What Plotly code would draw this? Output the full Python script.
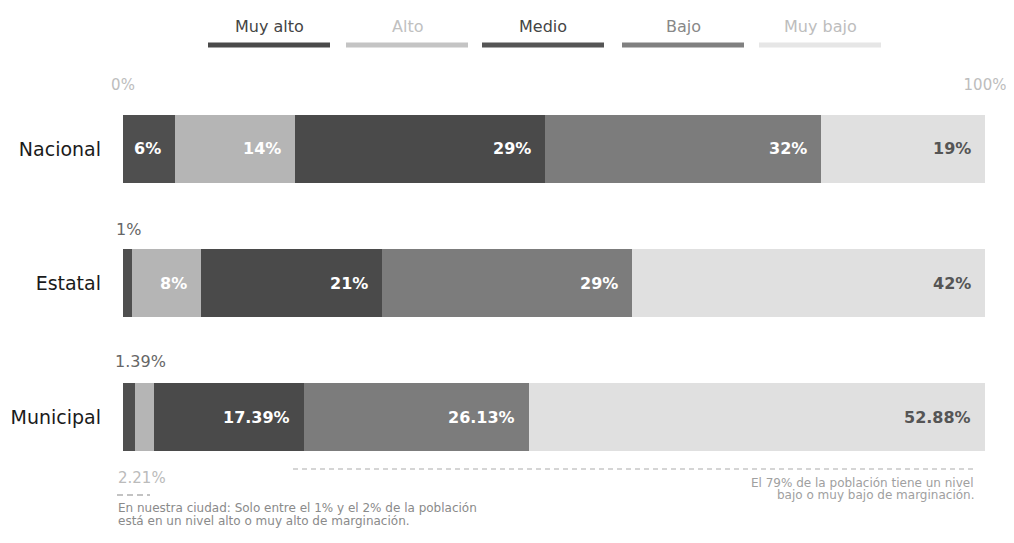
import plotly.graph_objects as go

# ---------------- data ----------------
categories = ["Nacional", "Estatal", "Municipal"]
series_names = ["Muy alto", "Alto", "Medio", "Bajo", "Muy bajo"]
muy_alto = [6, 1, 1.39]
alto = [14, 8, 2.21]
medio = [29, 21, 17.39]
bajo = [32, 29, 26.13]
muy_bajo = [19, 42, 52.88]
axis_ticks = [0, 100]
axis_ticktext = ["0%", "100%"]
note_left = ["En nuestra ciudad: Solo entre el 1% y el 2% de la población",
             "está en un nivel alto o muy alto de marginación."]
note_right = ["El 79% de la población tiene un nivel",
              "bajo o muy bajo de marginación."]

# ---------------- styles ----------------
bar_colors = ["#4f4f4f", "#b5b5b5", "#4a4a4a", "#7c7c7c", "#e0e0e0"]
legend_line_colors = ["#4a4a4a", "#c4c4c4", "#555555", "#808080", "#e6e6e6"]
legend_text_colors = ["#444444", "#c0c0c0", "#444444", "#888888", "#bdbdbd"]
label_colors = ["#ffffff", "#ffffff", "#ffffff", "#ffffff", "#555555"]
FONT = "DejaVu Sans"

W, H = 1014, 543
OFF = 8  # page body margin
# plot area in screen pixels: x 123..985, y 100..460
ML = 123 - OFF
MR = W - (985 - OFF)
MT = 100 - OFF
MB = H - (460 - OFF)
PW, PH = W - ML - MR, H - MT - MB


def px_x(px):
    return (px - OFF - ML) / PW


def px_y(py):
    return (H - MB - (py - OFF)) / PH


def fmt(v):
    return f"{v:g}%"


values = [muy_alto, alto, medio, bajo, muy_bajo]

fig = go.Figure()
for name, vals, col in zip(series_names, values, bar_colors):
    fig.add_trace(go.Bar(
        y=categories, x=vals, name=name, orientation="h",
        marker=dict(color=col, line=dict(width=0)),
        width=0.507, showlegend=False, hoverinfo="x+name",
    ))

annotations = []
# in-bar labels (right aligned at segment end)
for s, (vals, tcol) in enumerate(zip(values, label_colors)):
    for i, cat in enumerate(categories):
        if vals[i] < 5:
            continue
        end = min(sum(values[k][i] for k in range(s + 1)), 100)
        annotations.append(dict(
            x=end, y=cat, xref="x", yref="y", text=fmt(vals[i]),
            xanchor="right", yanchor="middle", xshift=-12, showarrow=False,
            font=dict(family=FONT, size=16, color=tcol, weight="bold"),
        ))

# small-segment callouts
annotations.append(dict(x=0, y=categories[1], xref="x", yref="y", text=fmt(muy_alto[1]),
                        xanchor="left", yanchor="middle", xshift=-9, yshift=54, showarrow=False,
                        font=dict(family=FONT, size=16, color="#666666")))
annotations.append(dict(x=0, y=categories[2], xref="x", yref="y", text=fmt(muy_alto[2]),
                        xanchor="left", yanchor="middle", xshift=-10, yshift=56, showarrow=False,
                        font=dict(family=FONT, size=16, color="#666666")))
annotations.append(dict(x=0, y=categories[2], xref="x", yref="y", text=fmt(alto[2]),
                        xanchor="left", yanchor="middle", xshift=-7, yshift=-61, showarrow=False,
                        font=dict(family=FONT, size=15, color="#bbbbbb")))

# notes (one annotation per line)
for line, py in zip(note_left, [508, 521]):
    annotations.append(dict(x=px_x(116), y=px_y(py), xref="paper", yref="paper", text=line,
                            xanchor="left", yanchor="middle", showarrow=False,
                            font=dict(family=FONT, size=12, color="#8a8a8a")))
for line, py in zip(note_right, [483, 495]):
    annotations.append(dict(x=px_x(976), y=px_y(py), xref="paper", yref="paper", text=line,
                            xanchor="right", yanchor="middle", showarrow=False,
                            font=dict(family=FONT, size=12, color="#a0a0a0")))

shapes = [
    dict(type="line", xref="paper", yref="paper", x0=px_x(293), x1=px_x(974),
         y0=px_y(469), y1=px_y(469), line=dict(color="#c8c8c8", width=1.5, dash="5px,4px")),
    dict(type="line", xref="paper", yref="paper", x0=px_x(117), x1=px_x(150),
         y0=px_y(495), y1=px_y(495), line=dict(color="#b0b0b0", width=1.5, dash="6px,4px")),
]

# custom legend
legend_centers = [269, 407, 543, 683, 820]
for name, cx, lc, tc in zip(series_names, legend_centers, legend_line_colors, legend_text_colors):
    annotations.append(dict(x=px_x(cx), y=px_y(26), xref="paper", yref="paper", text=name,
                            xanchor="center", yanchor="middle", showarrow=False,
                            font=dict(family=FONT, size=16, color=tc)))
    shapes.append(dict(type="line", xref="paper", yref="paper", x0=px_x(cx - 61), x1=px_x(cx + 61),
                       y0=px_y(45), y1=px_y(45), line=dict(color=lc, width=5)))

fig.update_layout(
    barmode="stack",
    width=W, height=H,
    margin=dict(l=ML, r=MR, t=MT, b=MB, pad=0, autoexpand=False),
    paper_bgcolor="white", plot_bgcolor="white",
    font=dict(family=FONT),
    xaxis=dict(range=[0, 100], side="top", tickvals=axis_ticks, ticktext=axis_ticktext,
               showgrid=False, zeroline=False, showline=False, automargin=False,
               ticks="outside", ticklen=3, tickcolor="white",
               tickfont=dict(family=FONT, size=15, color="#bdbdbd"), fixedrange=True),
    yaxis=dict(categoryorder="array", categoryarray=categories, range=[2.317, -0.365],
               showgrid=False, zeroline=False, showline=False, ticklabelstandoff=21,
               automargin=False,
               tickfont=dict(family=FONT, size=19, color="#1a1a1a"), fixedrange=True),
    annotations=annotations,
    shapes=shapes,
    showlegend=False,
)

fig.write_html("out.html")
